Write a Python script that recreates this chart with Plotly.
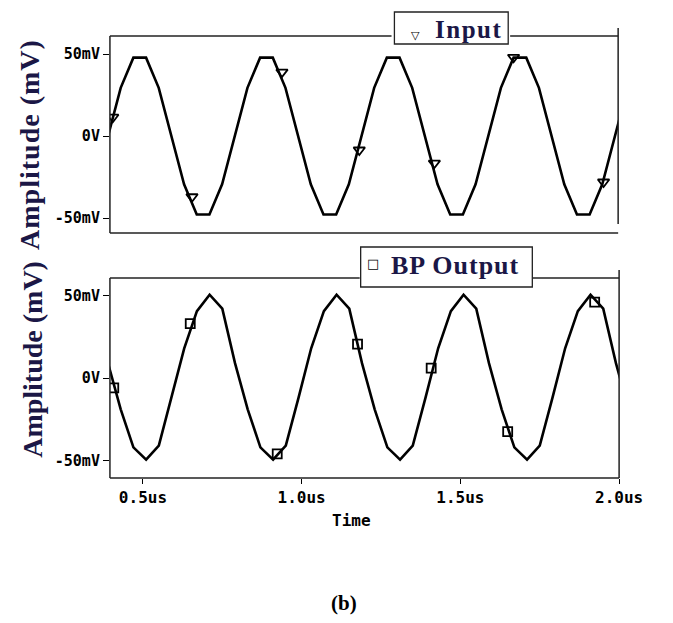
import plotly.graph_objects as go

# ---------------- data ----------------
sample_t = [0.39, 0.43, 0.47, 0.51, 0.55, 0.59, 0.63, 0.67, 0.71, 0.75,
            0.79, 0.83, 0.87, 0.91, 0.95, 0.99, 1.03, 1.07, 1.11, 1.15,
            1.19, 1.23, 1.27, 1.31, 1.35, 1.39, 1.43, 1.47, 1.51, 1.55,
            1.59, 1.63, 1.67, 1.71, 1.75, 1.79, 1.83, 1.87, 1.91, 1.95,
            1.99, 2.03]

input_mv = [0.0, 29.4, 47.8, 47.8, 29.4, 0.0, -29.4, -47.8, -47.8, -29.4,
            0.0, 29.4, 47.8, 47.8, 29.4, 0.0, -29.4, -47.8, -47.8, -29.4,
            0.0, 29.4, 47.8, 47.8, 29.4, 0.0, -29.4, -47.8, -47.8, -29.4,
            0.0, 29.4, 47.8, 47.8, 29.4, 0.0, -29.4, -47.8, -47.8, -29.4,
            0.0, 29.4]

output_mv = [9.0, -19.0, -42.0, -49.5, -41.0, -12.0, 18.0, 40.5, 50.5, 42.0,
             9.0, -19.0, -42.0, -49.5, -41.0, -12.0, 18.0, 40.5, 50.5, 42.0,
             9.0, -19.0, -42.0, -49.5, -41.0, -12.0, 18.0, 40.5, 50.5, 42.0,
             9.0, -19.0, -42.0, -49.5, -41.0, -12.0, 18.0, 40.5, 50.5, 42.0,
             9.0, -19.0]

input_marker_t = [0.405, 0.655, 0.939, 1.183, 1.420, 1.670, 1.954]
input_marker_mv = [11.5, -37.0, 39.0, -8.5, -16.5, 48.0, -28.0]

output_marker_t = [0.408, 0.649, 0.923, 1.176, 1.408, 1.649, 1.923]
output_marker_mv = [-6.0, 33.0, -46.0, 20.5, 6.0, -32.5, 46.0]

x_tick_vals = [0.5, 1.0, 1.5, 2.0]
x_tick_text = ["0.5us", "1.0us", "1.5us", "2.0us"]
y_tick_vals = [-50, 0, 50]
y_tick_text = ["-50mV", "0V", "50mV"]

# ---------------- layout helpers ----------------
W, H = 673, 623
def px(x):
    return x / W
def py(y):
    return 1 - y / H

TITLE_COLOR = "#1b1746"
MONO = "DejaVu Sans Mono"
SERIF = "Liberation Serif"

fig = go.Figure()

fig.add_trace(go.Scatter(x=sample_t, y=input_mv, mode="lines",
                         line=dict(color="black", width=2.6),
                         xaxis="x2", yaxis="y2", showlegend=False))
fig.add_trace(go.Scatter(x=input_marker_t, y=input_marker_mv, mode="markers",
                         marker=dict(symbol="triangle-down-open", size=10,
                                     color="black", line=dict(width=1.8)),
                         xaxis="x2", yaxis="y2", showlegend=False))
fig.add_trace(go.Scatter(x=sample_t, y=output_mv, mode="lines",
                         line=dict(color="black", width=2.6),
                         xaxis="x", yaxis="y", showlegend=False))
fig.add_trace(go.Scatter(x=output_marker_t, y=output_marker_mv, mode="markers",
                         marker=dict(symbol="square-open", size=9,
                                     color="black", line=dict(width=1.8)),
                         xaxis="x", yaxis="y", showlegend=False))

xr = [0.396, 2.0]
common_y = dict(tickvals=y_tick_vals, ticktext=y_tick_text, ticks="outside",
                ticklen=6, tickwidth=1.2, tickcolor="black", showgrid=False,
                zeroline=False, showline=False,
                tickfont=dict(family=MONO, size=15, color="black", weight="bold"))

fig.update_layout(
    width=W, height=H,
    margin=dict(l=0, r=0, t=0, b=0),
    paper_bgcolor="white", plot_bgcolor="white",
    xaxis=dict(domain=[px(114), px(642)], range=xr, anchor="y",
               tickvals=x_tick_vals, ticktext=x_tick_text, ticks="outside",
               ticklen=5, tickwidth=1.2, tickcolor="black", showgrid=False,
               zeroline=False, showline=False,
               tickfont=dict(family=MONO, size=16, color="black", weight="bold")),
    xaxis2=dict(domain=[px(114), px(641)], range=xr, anchor="y2",
                showticklabels=False, ticks="", showgrid=False,
                zeroline=False, showline=False),
    yaxis=dict(domain=[py(478), py(278)], range=[-60.6, 60.6], anchor="x", **common_y),
    yaxis2=dict(domain=[py(233), py(36)], range=[-59.1, 61.0], anchor="x2", **common_y),
)

# ---------------- frame lines (PSpice style) ----------------
def seg(x0, y0, x1, y1):
    fig.add_shape(type="line", xref="paper", yref="paper",
                  x0=px(x0), y0=py(y0), x1=px(x1), y1=py(y1),
                  line=dict(color="#222222", width=1.5))

# top panel
seg(114, 36, 114, 233)
seg(114, 233, 641, 233)
seg(114, 36, 406, 36)
seg(529, 36, 641, 36)
seg(641, 28, 641, 224)
# bottom panel
seg(114, 278, 114, 478)
seg(114, 478, 642, 478)
seg(114, 278, 373, 278)
seg(552, 278, 642, 278)
seg(642, 270, 642, 478)

# legend boxes
fig.add_shape(type="rect", xref="paper", yref="paper",
              x0=px(409), y0=py(44), x1=px(527), y1=py(12),
              line=dict(color="#222222", width=1.3), fillcolor="white")
fig.add_shape(type="rect", xref="paper", yref="paper",
              x0=px(374), y0=py(287), x1=px(552), y1=py(247),
              line=dict(color="#222222", width=1.3), fillcolor="white")

def ann(text, x, y, size, family, color="black", angle=0, bold=True,
        xanchor="center", yanchor="middle", spacing=None):
    if spacing is not None:
        text = "<span style='letter-spacing:%spx'>%s</span>" % (spacing, text)
    fig.add_annotation(text=text, x=px(x), y=py(y), xref="paper", yref="paper",
                       showarrow=False, textangle=angle,
                       xanchor=xanchor, yanchor=yanchor,
                       font=dict(family=family, size=size, color=color,
                                 weight="bold" if bold else "normal"))

# legend contents
ann("▽", 431, 35, 11, "DejaVu Sans", bold=False)
ann("Input", 486, 30, 25, SERIF, color=TITLE_COLOR, spacing=1.5)
ann("□", 387, 263, 13, "DejaVu Sans", bold=False)
ann("BP Output", 472, 265, 26, SERIF, color=TITLE_COLOR, spacing=1)

# axis titles
ann("Amplitude (mV)", 30, 144, 28, SERIF, color=TITLE_COLOR, angle=-90, spacing=1)
ann("Amplitude (mV)", 33, 359, 28, SERIF, color=TITLE_COLOR, angle=-90)

# x title
ann("Time", 365, 520, 16, MONO)

# caption
ann("(b)", 357, 603, 21, SERIF)

fig.write_html("out.html")
